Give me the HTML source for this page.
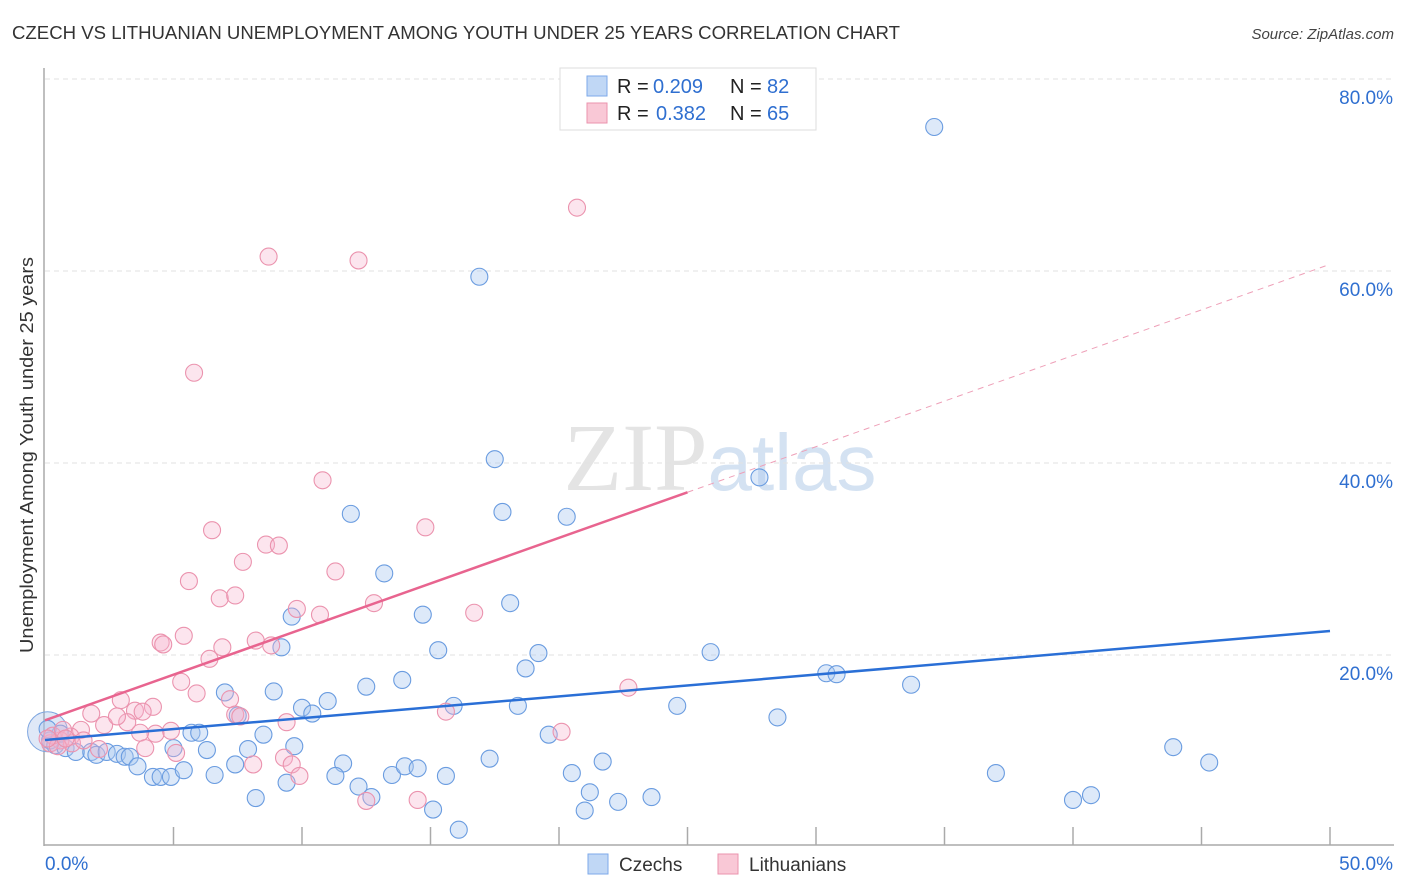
<!DOCTYPE html>
<html><head><meta charset="utf-8"><style>
body{margin:0;background:#fff;font-family:"Liberation Sans",sans-serif;}
</style></head><body>
<svg id="chart" width="1406" height="892" xmlns="http://www.w3.org/2000/svg" style="display:block">
<text x="12" y="39" font-size="18" fill="#333" textLength="888" lengthAdjust="spacingAndGlyphs">CZECH VS LITHUANIAN UNEMPLOYMENT AMONG YOUTH UNDER 25 YEARS CORRELATION CHART</text>
<text x="1394" y="39" font-size="15" fill="#444" text-anchor="end" font-style="italic">Source: ZipAtlas.com</text>
<text x="720" y="490" font-size="96" text-anchor="middle" fill="#e4e4e4" font-family="Liberation Serif, serif">ZIP<tspan fill="#d4e2f2" font-family="Liberation Sans, sans-serif" font-size="80">atlas</tspan></text>
<g id="grid"></g>
<g id="axes"></g>
<g id="pts"></g>
<g id="lines"></g>
<text transform="translate(33,455) rotate(-90)" font-size="18" fill="#333" text-anchor="middle" textLength="396" lengthAdjust="spacingAndGlyphs">Unemployment Among Youth under 25 years</text>
<g>
<rect x="560" y="68" width="256" height="62" fill="#fff" stroke="#ddd"/>
<rect x="587" y="76" width="20" height="20" fill="#c0d7f5" stroke="#7eaaea"/>
<rect x="587" y="103" width="20" height="20" fill="#f9c8d6" stroke="#eb93ae"/>
<text x="617" y="93" font-size="20" fill="#222">R =</text>
<text x="653" y="93" font-size="20" fill="#2f6fd0">0.209</text>
<text x="730" y="93" font-size="20" fill="#222">N =</text>
<text x="767" y="93" font-size="20" fill="#2f6fd0">82</text>
<text x="617" y="120" font-size="20" fill="#222">R =</text>
<text x="656" y="120" font-size="20" fill="#2f6fd0">0.382</text>
<text x="730" y="120" font-size="20" fill="#222">N =</text>
<text x="767" y="120" font-size="20" fill="#2f6fd0">65</text>
</g>
<g>
<rect x="588" y="854" width="20" height="20" fill="#c0d7f5" stroke="#7eaaea"/>
<text x="619" y="871" font-size="19" fill="#333">Czechs</text>
<rect x="718" y="854" width="20" height="20" fill="#f9c8d6" stroke="#eb93ae"/>
<text x="749" y="871" font-size="19" fill="#333">Lithuanians</text>
</g>
</svg>
<script>
const czechX=[34.6,16.9,17.5,27.8,11.9,17.8,20.3,13.2,18.1,14.7,9.6,9.2,15.3,19.2,25.9,18.7,30.4,30.8,13.9,33.7,12.5,7.0,8.9,11.0,10.0,10.4,15.9,18.4,24.6,28.5,7.5,5.7,6.0,8.5,19.6,43.9,9.7,5.0,6.3,7.9,0.2,0.4,0.8,1.2,1.8,2.0,2.4,2.8,3.1,3.3,3.6,4.2,4.5,4.9,5.4,6.6,7.4,11.6,17.3,21.7,45.3,11.3,13.5,14.0,14.5,15.6,20.5,37.0,12.2,21.2,8.2,9.4,12.7,23.6,22.3,40.0,40.7,15.1,21.0,16.1,0.6,0.1];
const czechY=[75.0,59.4,40.4,38.5,34.7,34.9,34.4,28.5,25.4,24.2,24.0,20.8,20.5,20.2,20.3,18.6,18.1,18.0,17.4,16.9,16.7,16.1,16.2,15.2,14.5,13.9,14.7,14.7,14.7,13.5,13.7,11.9,11.9,11.7,11.7,10.4,10.5,10.3,10.1,10.2,11.1,10.6,10.3,9.9,9.9,9.6,9.9,9.7,9.4,9.4,8.4,7.3,7.3,7.3,8.0,7.5,8.6,8.7,9.2,8.9,8.8,7.4,7.5,8.4,8.2,7.4,7.7,7.7,6.3,5.7,5.1,6.7,5.2,5.2,4.7,4.9,5.4,3.9,3.8,1.8,11.8,12.3];
const lithX=[20.7,8.7,12.2,5.8,10.8,14.8,6.5,7.7,8.6,9.1,11.3,5.6,6.8,7.4,12.8,9.8,10.7,16.7,5.4,4.5,4.6,6.9,6.4,8.2,8.8,5.3,5.9,7.2,2.95,22.7,7.4,7.6,9.4,4.2,3.5,1.8,3.2,15.6,2.3,3.8,4.9,2.8,4.3,3.7,1.4,1.0,0.6,0.2,0.3,1.05,2.1,5.1,1.5,3.9,9.3,9.6,9.9,8.1,12.5,14.5,20.1,0.7,0.5,0.8,0.1];
const lithY=[66.6,61.5,61.1,49.4,38.2,33.3,33.0,29.7,31.5,31.4,28.7,27.7,25.9,26.2,25.4,24.8,24.2,24.4,22.0,21.3,21.1,20.8,19.6,21.5,21.0,17.2,16.0,15.4,15.3,16.6,13.8,13.6,13.0,14.6,14.2,13.9,13.0,14.1,12.7,14.1,12.1,13.6,11.8,11.9,12.2,11.5,11.1,10.8,11.6,10.8,10.2,9.8,11.1,10.3,9.3,8.6,7.4,8.6,4.8,4.9,12.0,12.2,10.5,11.3,11.3];
const blueLine=[11.15,22.5], pinkLine=[13.2,60.7];
const xTicks=[0,5,10,15,20,25,30,35,40,45,50];
const yTicks=[20,40,60,80];
const yTickLabels=["20.0%","40.0%","60.0%","80.0%"];
const X=v=>45+v*25.7, Y=v=>847-v*9.6;
const NS="http://www.w3.org/2000/svg";
function mk(tag,attrs,parent){const e=document.createElementNS(NS,tag);for(const k in attrs)e.setAttribute(k,attrs[k]);document.getElementById(parent).appendChild(e);return e;}
yTicks.forEach((t,i)=>{
 const g=mk('line',{x1:45,x2:1393,y1:Y(t),y2:Y(t),stroke:'#e2e2e2','stroke-dasharray':'5,4'},'grid');
 
 
 const l=mk('text',{x:1393,y:Y(t)+25,'font-size':19,fill:'#2f6fd0','text-anchor':'end'},'axes');l.textContent=yTickLabels[i];
 
 
});
const ya=mk('line',{x1:44,x2:44,y1:68,y2:846,stroke:'#aaa','stroke-width':1.5},'axes');


const xa=mk('line',{x1:44,x2:1394,y1:845,y2:845,stroke:'#aaa','stroke-width':1.5},'axes');


xTicks.forEach(t=>{if(t===0)return;const l=mk('line',{x1:X(t),x2:X(t),y1:827,y2:845,stroke:'#aaa','stroke-width':1.5},'axes');
 
 });
const x0=mk('text',{x:45,y:870,'font-size':19,fill:'#2f6fd0'},'axes');x0.textContent='0.0%';


const x1=mk('text',{x:1393,y:870,'font-size':19,fill:'#2f6fd0','text-anchor':'end'},'axes');x1.textContent='50.0%';


const big=mk('circle',{cx:X(0.1),cy:Y(12),r:20,fill:'rgba(150,180,230,0.3)',stroke:'#7ea6e0'},'pts');


czechX.forEach((v,i)=>{const c=mk('circle',{cx:X(v),cy:Y(czechY[i]),r:8.5,fill:'rgba(170,200,240,0.4)',stroke:'#6a9ce0','stroke-width':1.1},'pts');
 
 });
lithX.forEach((v,i)=>{const c=mk('circle',{cx:X(v),cy:Y(lithY[i]),r:8.5,fill:'rgba(245,180,205,0.35)',stroke:'#eb93ae','stroke-width':1.1},'pts');
 
 });
const bl=mk('line',{x1:X(0),y1:Y(blueLine[0]),x2:X(50),y2:Y(blueLine[1]),stroke:'#2a6fd6','stroke-width':2.5},'lines');


const pAt=x=>pinkLine[0]+(pinkLine[1]-pinkLine[0])*x/50;
const pl=mk('line',{x1:X(0),y1:Y(pAt(0)),x2:X(25),y2:Y(pAt(25)),stroke:'#e8648f','stroke-width':2.5},'lines');


const pd=mk('line',{x1:X(25),y1:Y(pAt(25)),x2:X(50),y2:Y(pAt(50)),stroke:'#eea0b8','stroke-width':1,'stroke-dasharray':'6,5'},'lines');


</script>
</body></html>
